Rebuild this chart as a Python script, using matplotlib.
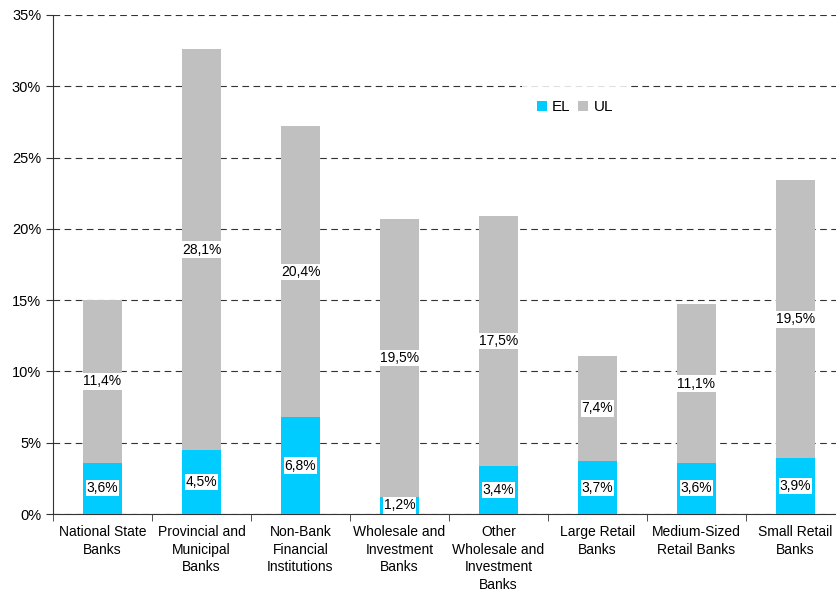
import matplotlib
matplotlib.use("Agg")
import matplotlib.pyplot as plt
from matplotlib.ticker import FuncFormatter, MultipleLocator
import numpy as np

plt.rcParams['font.family'] = ['Liberation Sans', 'DejaVu Sans']

categories = [
    "National State\nBanks",
    "Provincial and\nMunicipal\nBanks",
    "Non-Bank\nFinancial\nInstitutions",
    "Wholesale and\nInvestment\nBanks",
    "Other\nWholesale and\nInvestment\nBanks",
    "Large Retail\nBanks",
    "Medium-Sized\nRetail Banks",
    "Small Retail\nBanks",
]
el_values = [3.6, 4.5, 6.8, 1.2, 3.4, 3.7, 3.6, 3.9]
ul_values = [11.4, 28.1, 20.4, 19.5, 17.5, 7.4, 11.1, 19.5]

el_color = "#00CCFF"
ul_color = "#C0C0C0"

fig = plt.figure(figsize=(8.37, 5.93), dpi=100)
ax = fig.add_axes([53 / 837, 1 - 514 / 593, 792 / 837, 499 / 593])

x = np.arange(len(categories))
el = np.array(el_values)
ul = np.array(ul_values)

ax.bar(x, el, width=0.40, color=el_color, label="EL", zorder=3)
ax.bar(x, ul, width=0.40, bottom=el, color=ul_color, label="UL", zorder=3)

def pct(v):
    return f"{v:.1f}%".replace(".", ",")

box = dict(boxstyle="square,pad=0.08", facecolor="white", edgecolor="none")
for xi, e, u in zip(x, el, ul):
    ax.text(xi, e / 2, pct(e), ha="center", va="center", fontsize=10,
            bbox=box, zorder=5)
    ax.text(xi, e + u / 2, pct(u), ha="center", va="center", fontsize=10,
            bbox=box, zorder=5)

ax.set_ylim(0, 35)
ax.set_xlim(-0.5, len(categories) - 0.5)
ax.yaxis.set_major_locator(MultipleLocator(5))
ax.yaxis.set_major_formatter(FuncFormatter(lambda v, p: f"{v:.0f}%"))
ax.yaxis.grid(True, linestyle=(0, (6, 4)), color="#333333", linewidth=0.8, zorder=0)
ax.set_axisbelow(True)

ax.set_xticks(x)
ax.set_xticklabels(categories, fontsize=10, linespacing=1.32)
ax.tick_params(axis="x", length=0, pad=8)
ax.set_xticks(np.arange(len(categories) + 1) - 0.5, minor=True)
ax.tick_params(axis="x", which="minor", length=5, direction="out", color="#333333")
ax.tick_params(axis="y", labelsize=10.5, length=5, direction="out", color="#333333")

for s in ["top", "right"]:
    ax.spines[s].set_visible(False)
for s in ["left", "bottom"]:
    ax.spines[s].set_color("#333333")

leg = ax.legend(loc="upper left", bbox_to_anchor=(0.582, 0.875), ncol=2,
                frameon=True, fancybox=False, fontsize=11,
                handlelength=0.65, handleheight=0.65, handletextpad=0.35,
                columnspacing=0.5, borderpad=1.0)
leg.get_frame().set_facecolor("white")
leg.get_frame().set_edgecolor("none")
leg.get_frame().set_alpha(0.85)

fig.savefig("out.png", dpi=100)
